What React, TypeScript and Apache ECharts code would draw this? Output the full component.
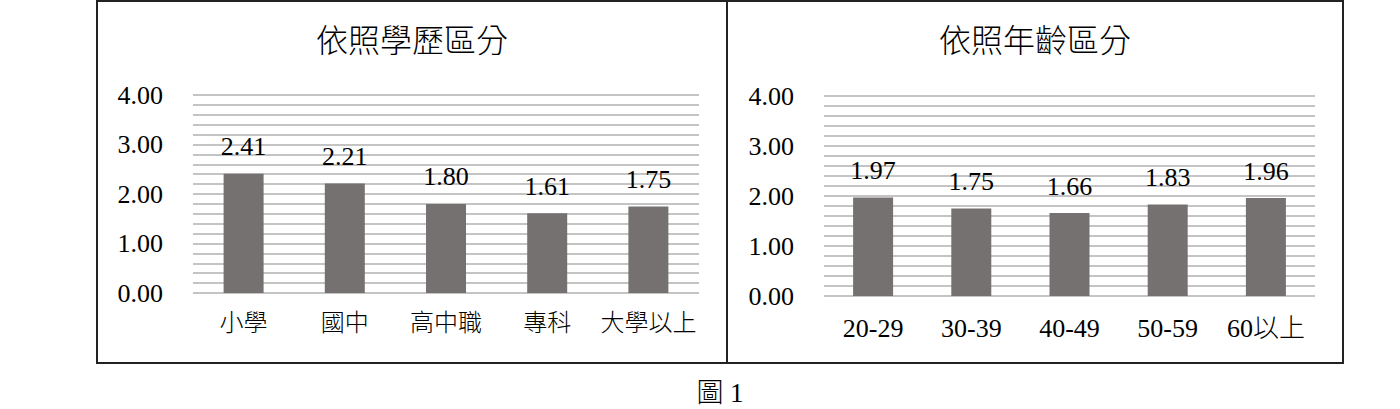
import React, { useEffect, useRef } from "react";
import * as echarts from "echarts";

const eduCategories = ["小學", "國中", "高中職", "專科", "大學以上"];
const eduValues = [2.41, 2.21, 1.8, 1.61, 1.75];
const ageCategories = ["20-29", "30-39", "40-49", "50-59", "60以上"];
const ageValues = [1.97, 1.75, 1.66, 1.83, 1.96];
const eduTitle = "依照學歷區分";
const ageTitle = "依照年齡區分";
const caption = "圖 1";

const FONT = "'Liberation Serif', 'Times New Roman', 'Noto Sans CJK TC', serif";

export default function App() {
  const ref = useRef<HTMLDivElement>(null);
  useEffect(() => {
    document.body.style.margin = "0";
    const chart = echarts.init(ref.current!, null, { renderer: "svg" });
    const yAxisCommon = (gridIndex: number) => ({
      type: "value",
      gridIndex,
      min: 0,
      max: 4,
      interval: 0.2,
      axisLine: { show: false },
      axisTick: { show: false },
      axisLabel: {
        margin: 30,
        fontFamily: FONT,
        fontSize: 26,
        color: "#000",
        formatter: (v: number) =>
          Math.abs(v - Math.round(v)) < 1e-6 ? v.toFixed(2) : "",
      },
      splitLine: { lineStyle: { color: "#c4c4c4", width: 2 } },
    });
    const xAxisCommon = (
      gridIndex: number,
      data: string[],
      fontSize: number,
      margin: number
    ) => ({
      type: "category",
      gridIndex,
      data,
      axisLine: { show: false },
      axisTick: { show: false },
      axisLabel: {
        margin,
        fontFamily: FONT,
        fontSize,
        fontWeight: 300,
        color: "#000",
        interval: 0,
      },
    });
    const barCommon = (idx: number, data: number[]) => ({
      type: "bar",
      xAxisIndex: idx,
      yAxisIndex: idx,
      data,
      barWidth: 40,
      itemStyle: { color: "#767171" },
      label: {
        show: true,
        position: "top",
        distance: 14,
        fontFamily: FONT,
        fontSize: 26,
        color: "#000",
        formatter: (p: any) => Number(p.value).toFixed(2),
      },
    });
    const titleStyle = (text: string) => ({
      text,
      fontFamily: FONT,
      fontSize: 32,
      fontWeight: 300,
      fill: "#000",
      textAlign: "center",
      textVerticalAlign: "middle",
    });
    chart.setOption({
      animation: false,
      grid: [
        { left: 193, right: 701, top: 95, bottom: 116 },
        { left: 824, right: 85, top: 96, bottom: 113 },
      ],
      xAxis: [
        xAxisCommon(0, eduCategories, 24, 18),
        xAxisCommon(1, ageCategories, 26, 19),
      ],
      yAxis: [yAxisCommon(0), yAxisCommon(1)],
      series: [barCommon(0, eduValues), barCommon(1, ageValues)],
      graphic: [
        {
          type: "rect",
          shape: { x: 97, y: 1, width: 1246, height: 362 },
          style: { fill: "none", stroke: "#222", lineWidth: 2 },
          silent: true,
        },
        {
          type: "line",
          shape: { x1: 727, y1: 1, x2: 727, y2: 363 },
          style: { stroke: "#222", lineWidth: 2 },
          silent: true,
        },
        { type: "text", x: 412, y: 41, style: titleStyle(eduTitle) },
        { type: "text", x: 1035, y: 41, style: titleStyle(ageTitle) },
        {
          type: "text",
          x: 720,
          y: 393,
          style: {
            text: caption,
            fontFamily: FONT,
            fontSize: 27,
            fontWeight: 300,
            fill: "#000",
            textAlign: "center",
            textVerticalAlign: "middle",
          },
        },
      ],
    });
    return () => chart.dispose();
  }, []);
  return <div ref={ref} style={{ width: 1400, height: 409 }} />;
}
